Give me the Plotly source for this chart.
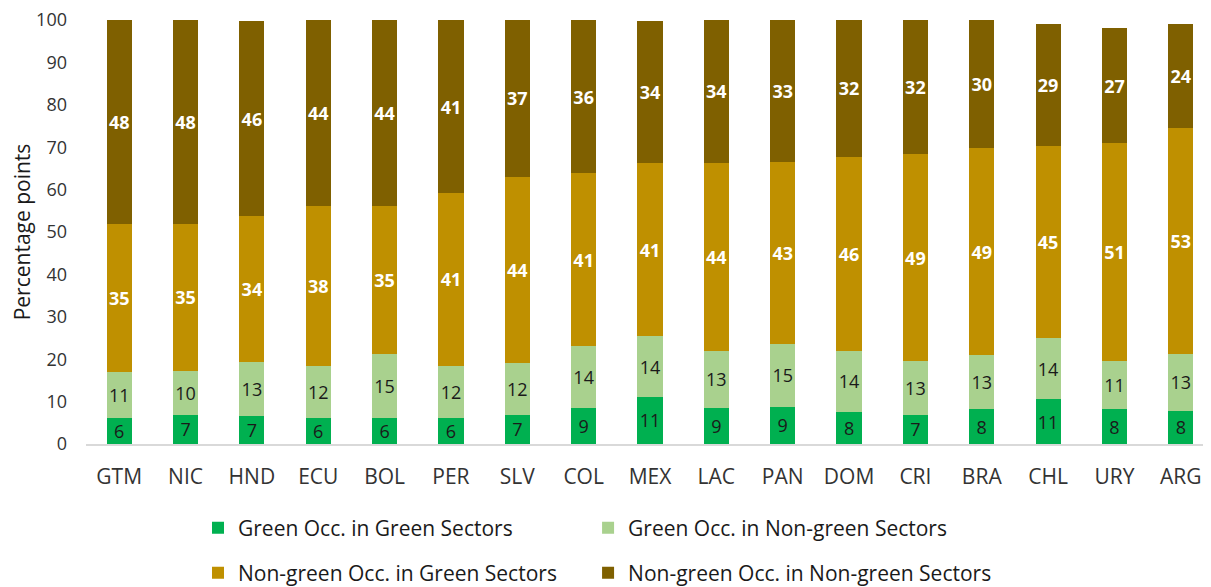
import plotly.graph_objects as go

categories = ["GTM", "NIC", "HND", "ECU", "BOL", "PER", "SLV", "COL", "MEX",
              "LAC", "PAN", "DOM", "CRI", "BRA", "CHL", "URY", "ARG"]
green_green = [6.1, 6.9, 6.6, 6.1, 6.1, 6.1, 6.9, 8.6, 11.1, 8.6, 8.8, 7.6, 6.9, 8.2, 10.6, 8.2, 7.9]
green_nongreen = [10.9, 10.4, 12.8, 12.2, 15.1, 12.4, 12.2, 14.4, 14.3, 13.3, 14.8, 14.4, 12.6, 12.7, 14.4, 11.3, 13.3]
nongreen_green = [35.0, 34.7, 34.4, 37.9, 35.0, 40.6, 43.9, 40.9, 40.8, 44.4, 42.9, 45.7, 48.9, 48.9, 45.4, 51.4, 53.4]
nongreen_nongreen = [48.0, 48.0, 45.9, 43.8, 43.8, 40.9, 37.0, 36.1, 33.6, 33.7, 33.4, 32.3, 31.6, 30.2, 28.7, 27.3, 24.4]
y_ticks = [0, 10, 20, 30, 40, 50, 60, 70, 80, 90, 100]

FONT = "Open Sans"
TXT = "#333333"
series = [
    ("Green Occ. in Green Sectors", green_green, "#00B050", "#1a1a1a", False, "legend"),
    ("Green Occ. in Non-green Sectors", green_nongreen, "#A9D18E", "#1a1a1a", False, "legend2"),
    ("Non-green Occ. in Green Sectors", nongreen_green, "#BF9000", "#ffffff", True, "legend3"),
    ("Non-green Occ. in Non-green Sectors", nongreen_nongreen, "#7F6000", "#ffffff", True, "legend4"),
]

fig = go.Figure()
for name, vals, color, tcolor, bold, leg in series:
    fig.add_trace(go.Bar(
        x=categories, y=vals, name=name,
        marker=dict(color=color, line=dict(width=0)),
        texttemplate="<b>%{y:.0f}</b>" if bold else "%{y:.0f}",
        textposition="inside", insidetextanchor="middle", textangle=0,
        constraintext="none",
        textfont=dict(family=FONT, size=18, color=tcolor),
        legend=leg,
    ))

leg_common = dict(orientation="h", xanchor="left", yanchor="top",
                  xref="container", yref="container",
                  font=dict(family=FONT, size=21, color="#1a1a1a"))
col1, col2 = 0.1569, 0.479
row1, row2 = 0.1490, 0.0724
fig.update_layout(
    barmode="stack",
    bargap=0.62,
    width=1211, height=587,
    margin=dict(l=78, r=5, t=12, b=151, autoexpand=False),
    paper_bgcolor="white", plot_bgcolor="white",
    font=dict(family=FONT, size=19, color=TXT),
    showlegend=True,
    legend=dict(x=col1, y=row1, **leg_common),
    legend2=dict(x=col2, y=row1, **leg_common),
    legend3=dict(x=col1, y=row2, **leg_common),
    legend4=dict(x=col2, y=row2, **leg_common),
)
fig.update_xaxes(showline=True, linecolor="#d9d9d9", linewidth=1.5, ticks="",
                 ticklabelstandoff=13, automargin=False,
                 tickfont=dict(family=FONT, size=21, color=TXT), showgrid=False)
fig.update_yaxes(range=[0, 100], tickvals=y_ticks, showgrid=False, zeroline=False,
                 showline=False, ticks="", ticklabelstandoff=18, automargin=False,
                 ticklabeloverflow="allow",
                 tickfont=dict(family=FONT, size=18, color=TXT),
                 title=dict(text="Percentage points", font=dict(family=FONT, size=21, color="#1a1a1a"), standoff=12))

fig.write_html("out.html")
